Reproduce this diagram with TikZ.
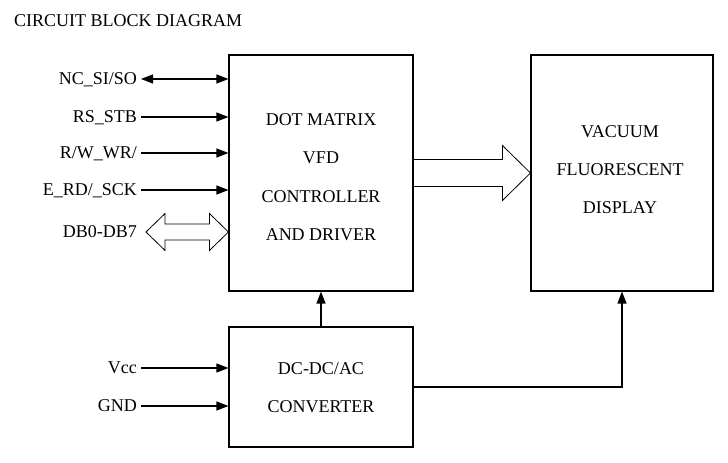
\documentclass[tikz,border=0pt]{standalone}
\usepackage{fontspec}
\setmainfont{Liberation Serif}
\usetikzlibrary{calc,arrows.meta}
\tikzset{
  wire/.style={line width=1.1pt},
  sig/.style={wire,-{Triangle[length=12pt,width=9pt]}},
  bisig/.style={wire,{Triangle[length=12pt,width=9pt]}-{Triangle[length=12pt,width=9pt]}},
  block/.style={draw, line width=1.1pt},
  blocktxt/.style={align=center, font=\fontsize{18}{38.5}\selectfont},
  pinlbl/.style={font=\fontsize{18}{20}\selectfont, anchor=east, inner xsep=4pt, inner ysep=0pt,
                 text height=12pt, text depth=0pt},
  bus/.style={draw, line width=0.8pt},
  }

\begin{document}
\begin{tikzpicture}[x=1pt,y=1pt]
  \useasboundingbox (0,0) rectangle (728,463);
  \node[anchor=base west, inner sep=0pt, font=\fontsize{18}{20}\selectfont] (title) at (14,436) {CIRCUIT BLOCK DIAGRAM};

  % blocks
  \node[block, minimum width=184, minimum height=236] (ctrl) at (321,290) {};
  \node[block, minimum width=182, minimum height=236] (vfd)  at (622,290) {};
  \node[block, minimum width=184, minimum height=120] (conv) at (321,76)  {};

  \node[blocktxt] (ctrltxt) at ($(ctrl)+(0,-4)$) {DOT MATRIX\\VFD\\CONTROLLER\\AND DRIVER};
  \node[blocktxt, font=\fontsize{18}{38}\selectfont] (vfdtxt) at ($(vfd)+(-2,3)$) {VACUUM\\FLUORESCENT\\DISPLAY};
  \node[blocktxt, font=\fontsize{18}{38}\selectfont] (convtxt) at ($(conv)+(0,-1)$) {DC-DC/AC\\CONVERTER};

  % controller inputs
  \node[pinlbl] (nc)  at (141,384) {NC\_SI/SO};
  \node[pinlbl] (rs)  at (141,346) {RS\_STB};
  \node[pinlbl] (rw)  at (141,310) {R/W\_WR/};
  \node[pinlbl] (erd) at (141,273) {E\_RD/\_SCK};
  \node[pinlbl] (db)  at (141,231) {DB0-DB7};

  \draw[bisig] (nc.east) -- (nc -| ctrl.west);
  \draw[sig] (rs.east)  -- (rs -| ctrl.west);
  \draw[sig] (rw.east)  -- (rw -| ctrl.west);
  \draw[sig] (erd.east) -- (erd -| ctrl.west);

  % data bus (hollow double arrow)
  \coordinate (dbl) at ($(db.east)+(5,0)$);
  \coordinate (dbr) at (db -| ctrl.west);
  \draw[bus] (dbl) -- ++(19,18.5) -- ++(0,-10.5) -- ($(dbr)+(-19,8)$) -- ++(0,10.5) -- (dbr)
             -- ++(-19,-18.5) -- ++(0,10.5) -- ($(dbl)+(19,-8)$) -- ++(0,-10.5) -- cycle;

  % drive lines to the display (hollow arrow)
  \draw[bus] ($(ctrl.east)+(0,13.5)$) -- ($(vfd.west)+(-28,13.5)$) -- ++(0,14) -- (vfd.west)
             -- ++(-28,-27.5) -- ++(0,14) -- ($(ctrl.east)+(0,-13.5)$);

  % power
  \node[pinlbl] (vcc) at (141,95) {Vcc};
  \node[pinlbl] (gnd) at (141,57) {GND};
  \draw[sig] (vcc.east) -- (vcc -| conv.west);
  \draw[sig] (gnd.east) -- (gnd -| conv.west);
  \draw[sig] (conv.north) -- (ctrl.south);
  \draw[sig] (conv.east) -| (vfd.south);
\end{tikzpicture}
\end{document}
